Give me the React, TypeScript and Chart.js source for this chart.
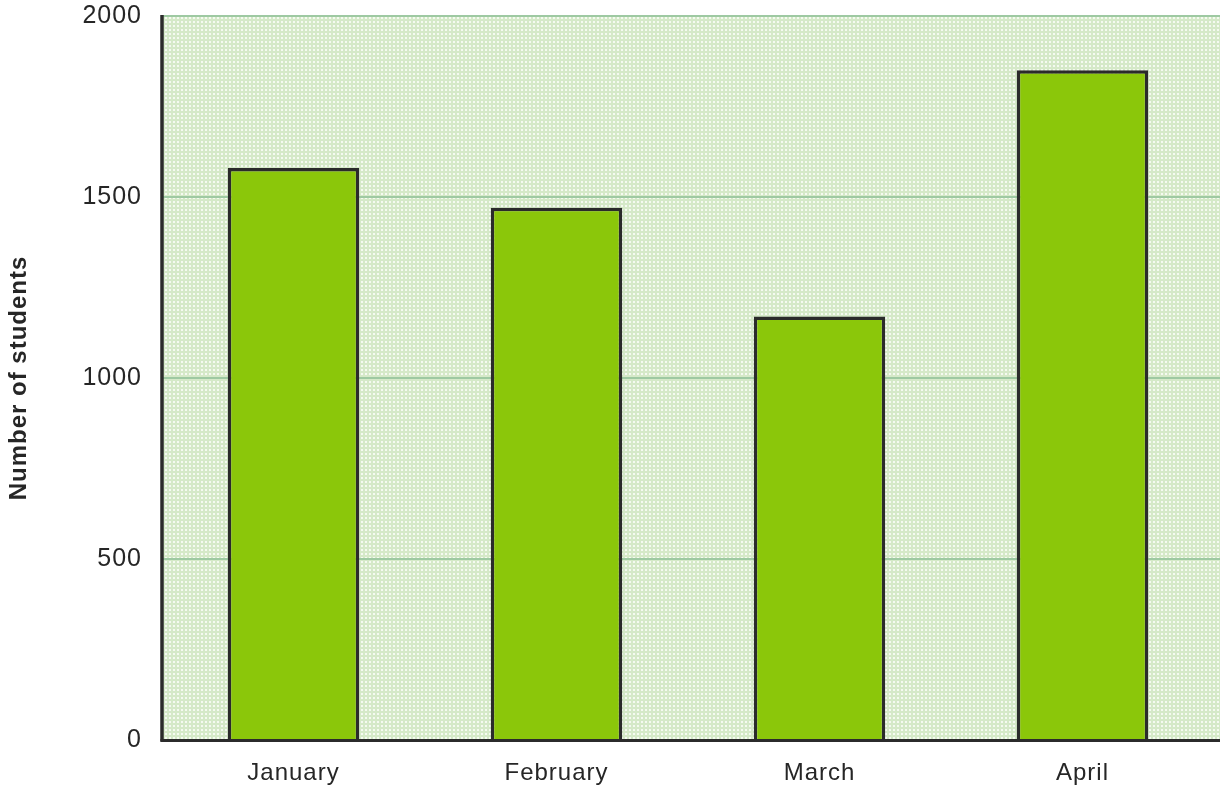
import React, { useEffect, useRef } from "react";
import { Chart, registerables } from "chart.js";

Chart.register(...registerables);

const months = ["January", "February", "March", "April"];
const students = [1580, 1470, 1170, 1850];
const yTicks = [0, 500, 1000, 1500, 2000];
const yTitle = "Number of students";

const FONT = "'Liberation Sans', Arial, Helvetica, sans-serif";
const TEXT = "#262626";
const AXIS = "#2b2b2b";
const GRID = "#9ec9a2";

function makePattern(): CanvasPattern | string {
  const tile = document.createElement("canvas");
  tile.width = 4;
  tile.height = 4;
  const t = tile.getContext("2d");
  if (!t) return "#e4f0da";
  t.fillStyle = "#d5e9c8";
  t.fillRect(0, 0, 4, 4);
  t.fillStyle = "#f5faf1";
  t.fillRect(1, 1, 2, 2);
  const p = t.createPattern(tile, "repeat");
  return p || "#e4f0da";
}

export default function App() {
  const ref = useRef<HTMLCanvasElement | null>(null);

  useEffect(() => {
    if (!ref.current) return;
    const pattern = makePattern();

    const decor = {
      id: "decor",
      beforeDraw(chart: any) {
        const ctx = chart.ctx;
        (ctx as any).letterSpacing = "1px";
        const a = chart.chartArea;
        ctx.save();
        ctx.fillStyle = pattern as any;
        ctx.fillRect(a.left, a.top, chart.width - a.left, a.bottom - a.top);
        ctx.restore();
      },
      beforeDatasetsDraw(chart: any) {
        const ctx = chart.ctx;
        const a = chart.chartArea;
        const y = chart.scales.y;
        ctx.save();
        ctx.strokeStyle = GRID;
        ctx.lineWidth = 2;
        yTicks.forEach((v) => {
          if (v === 0) return;
          const py = Math.round(y.getPixelForValue(v));
          ctx.beginPath();
          ctx.moveTo(a.left, py);
          ctx.lineTo(chart.width, py);
          ctx.stroke();
        });
        ctx.restore();
      },
      afterDatasetsDraw(chart: any) {
        const ctx = chart.ctx;
        const a = chart.chartArea;
        ctx.save();
        ctx.strokeStyle = AXIS;
        ctx.lineWidth = 3.5;
        ctx.beginPath();
        ctx.moveTo(a.left, a.top - 1);
        ctx.lineTo(a.left, a.bottom + 1.5);
        ctx.stroke();
        ctx.lineWidth = 3;
        ctx.beginPath();
        ctx.moveTo(a.left - 1.5, a.bottom + 0.5);
        ctx.lineTo(chart.width, a.bottom + 0.5);
        ctx.stroke();
        ctx.restore();
      },
    };

    const chart = new Chart(ref.current, {
      type: "bar",
      data: {
        labels: months,
        datasets: [
          {
            data: students,
            backgroundColor: "#8bc70a",
            borderColor: AXIS,
            borderWidth: 3.5,
            barPercentage: 0.5,
            categoryPercentage: 1,
          },
        ],
      },
      options: {
        responsive: false,
        animation: false,
        layout: { padding: { top: 16, right: 6, left: 0, bottom: 0 } },
        plugins: {
          legend: { display: false },
          tooltip: { enabled: false },
        },
        scales: {
          x: {
            grid: { display: false, drawTicks: false },
            border: { display: false },
            ticks: {
              color: TEXT,
              padding: 19,
              font: { family: FONT, size: 24 },
              maxRotation: 0,
            },
            afterFit(scale: any) {
              scale.height = 51;
              scale.paddingLeft = 0;
              scale.paddingRight = 0;
            },
          },
          y: {
            min: 0,
            max: 2000,
            grid: { display: false, drawTicks: false },
            border: { display: false },
            afterBuildTicks(scale: any) {
              scale.ticks = yTicks.map((v) => ({ value: v }));
            },
            ticks: {
              color: TEXT,
              padding: 20,
              font: { family: FONT, size: 25 },
              callback: (v: any) => String(v),
            },
            title: {
              display: true,
              text: yTitle,
              color: TEXT,
              font: { family: FONT, size: 24, weight: "bold" },
              padding: { top: 5, bottom: 0 },
            },
            afterFit(scale: any) {
              scale.width = 162;
              scale.paddingTop = 0;
              scale.paddingBottom = 0;
            },
          },
        },
      },
      plugins: [decor],
    });

    return () => chart.destroy();
  }, []);

  return (
    <div style={{ position: "fixed", left: 0, top: 0, width: 1220, height: 791, background: "#ffffff" }}>
      <canvas ref={ref} width={1220} height={791} style={{ width: 1220, height: 791, display: "block" }} />
    </div>
  );
}
